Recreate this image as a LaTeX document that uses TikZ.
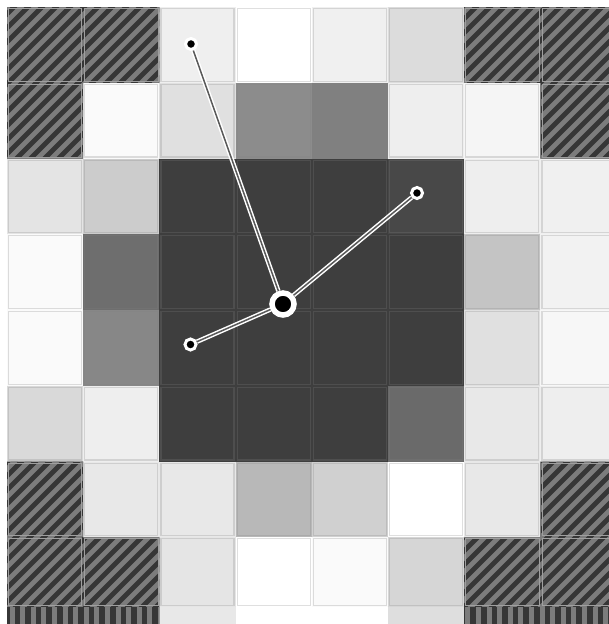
\documentclass[tikz,border=0pt]{standalone}
\definecolor{hbase}{HTML}{363636}
\definecolor{hline}{HTML}{7C7C7C}
\tikzset{
  smalldot/.style={circle, fill=black, draw=white, line width=3pt, inner sep=0pt, minimum size=11pt},
  bigdot/.style={circle, fill=black, draw=white, line width=5.5pt, inner sep=0pt, minimum size=22pt},
  link/.style={draw=white, line width=1.5pt, double=black!65, double distance=1.5pt},
  hatchline/.style={hline, line width=4.8pt},
  vline/.style={hline, line width=5pt},
}
\begin{document}
\begin{tikzpicture}[x=1pt,y=-1pt]
\useasboundingbox (0,0) rectangle (609,624);
\clip (0,0) rectangle (609,624);
\fill[white] (0,0) rectangle (609,624);
% gray cells
\foreach \c/\r/\g in {
 2/0/.937, 3/0/1, 4/0/.94, 5/0/.863,
 1/1/.98, 2/1/.878, 3/1/.55, 4/1/.50, 5/1/.933, 6/1/.96,
 0/2/.894, 1/2/.80, 2/2/.243, 3/2/.243, 4/2/.243, 5/2/.282, 6/2/.933, 7/2/.94,
 0/3/.98, 1/3/.43, 2/3/.243, 3/3/.243, 4/3/.243, 5/3/.243, 6/3/.77, 7/3/.95,
 0/4/.98, 1/4/.53, 2/4/.243, 3/4/.243, 4/4/.243, 5/4/.243, 6/4/.88, 7/4/.97,
 0/5/.85, 1/5/.933, 2/5/.243, 3/5/.243, 4/5/.243, 5/5/.415, 6/5/.91, 7/5/.933,
 1/6/.91, 2/6/.91, 3/6/.72, 4/6/.815, 5/6/1, 6/6/.91,
 2/7/.90, 3/7/1, 4/7/.98, 5/7/.84}{
  \pgfmathsetmacro\xa{7+76.2*\c}
  \pgfmathsetmacro\ya{7+75.75*\r}
  \pgfmathsetmacro\xb{\xa+76.2}
  \pgfmathsetmacro\yb{ifthenelse(\r==7,607,\ya+75.75)}
  \definecolor{cc}{gray}{\g}
  \fill[cc] (\xa,\ya) rectangle (\xb,\yb);
  \draw[cc!75!gray, line width=1.2pt] (\xa+1.6,\ya+1.6) rectangle (\xb-1.6,\yb-1.6);
}
% bottom partial row
\foreach \c/\g in {2/.91, 3/1, 4/1, 5/.87}{
  \pgfmathsetmacro\xa{7+76.2*\c}
  \pgfmathsetmacro\xb{\xa+76.2}
  \definecolor{cc}{gray}{\g}
  \fill[cc] (\xa,607) rectangle (\xb,624);
}
% hatched cells: base
\fill[hbase]
  (7,7) rectangle (159.4,82.75)
  (7,82.75) rectangle (83.2,158.5)
  (464.2,7) rectangle (616.6,82.75)
  (540.4,82.75) rectangle (616.6,158.5)
  (7,461.5) rectangle (83.2,537.25)
  (540.4,461.5) rectangle (616.6,537.25)
  (7,537.25) rectangle (159.4,607)
  (464.2,537.25) rectangle (616.6,607);
\begin{scope}
  \clip
  (7,7) rectangle (159.4,82.75)
  (7,82.75) rectangle (83.2,158.5)
  (464.2,7) rectangle (616.6,82.75)
  (540.4,82.75) rectangle (616.6,158.5)
  (7,461.5) rectangle (83.2,537.25)
  (540.4,461.5) rectangle (616.6,537.25)
  (7,537.25) rectangle (159.4,607)
  (464.2,537.25) rectangle (616.6,607);
  \foreach \k in {0,14,...,1330}{
    \draw[hatchline] (\k,0) -- (\k-700,700);
  }
\end{scope}
\foreach \c/\r in {0/0,1/0,6/0,7/0,0/1,7/1,0/6,7/6,0/7,1/7,6/7,7/7}{
  \pgfmathsetmacro\xa{7+76.2*\c}
  \pgfmathsetmacro\ya{7+75.75*\r}
  \pgfmathsetmacro\xb{\xa+76.2}
  \pgfmathsetmacro\yb{ifthenelse(\r==7,607,\ya+75.75)}
  \draw[gray!75, line width=0.6pt] (\xa+1.5,\ya+1.5) rectangle (\xb-1.5,\yb-1.5);
}
% vertical stripes in partial row
\fill[hbase] (7,607) rectangle (159.4,624) (464.2,607) rectangle (616.6,624);
\begin{scope}
  \clip (7,607) rectangle (159.4,624) (464.2,607) rectangle (616.6,624);
  \foreach \k in {12,22.6,...,620}{
    \draw[vline] (\k,600) -- (\k,630);
  }
\end{scope}
% dots and links
\node[bigdot] (c) at (283,304) {};
\node[smalldot] (top) at (191,44) {};
\node[smalldot] (right) at (417,193) {};
\node[smalldot] (left) at (190.5,344.5) {};
\draw[link] (c) -- (top);
\draw[link] (c) -- (right);
\draw[link] (c) -- (left);
\end{tikzpicture}
\end{document}
